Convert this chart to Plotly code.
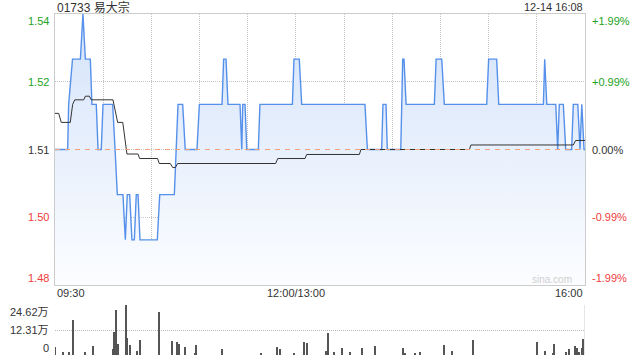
import plotly.graph_objects as go

# ---- data (x = minutes since 09:30, lunch break removed) ----
price_min = [0, 7.9, 8.5, 10.9, 15.8, 17.4, 18.9, 22.0, 23.0, 25.7, 26.8, 28.8, 29.9, 35.9,
             37.4, 38.8, 42.3, 43.8, 45.0, 46.5, 47.9, 49.4, 50.6, 51.7, 52.9, 63.7, 65.2,
             74.3, 76.6, 79.5, 81.1, 88.4, 89.9, 104.0, 105.0, 106.5, 107.7, 115.2, 116.3,
             116.9, 118.3, 119.4, 126.6, 127.6, 147.8, 148.8, 152.1, 153.6, 193.0, 194.5,
             203.4, 204.2, 206.1, 206.9, 215.3, 216.5, 217.3, 218.6, 236.2, 237.3, 240.8,
             242.4, 268.8, 270.0, 275.0, 276.3, 304.1, 304.9, 306.2, 311.8, 313.0, 314.0,
             316.5, 318.0, 321.7, 322.7, 325.5, 326.9, 328.0, 329.4, 330]
price_val = [1.51, 1.51, 1.52, 1.53, 1.53, 1.54, 1.53, 1.53, 1.52, 1.52, 1.51, 1.51, 1.52, 1.52,
             1.51, 1.50, 1.50, 1.49, 1.50, 1.50, 1.49, 1.49, 1.50, 1.50, 1.49, 1.49, 1.50,
             1.50, 1.52, 1.52, 1.51, 1.51, 1.52, 1.52, 1.53, 1.53, 1.52, 1.52, 1.51,
             1.52, 1.52, 1.51, 1.51, 1.52, 1.52, 1.53, 1.53, 1.52, 1.52, 1.51,
             1.51, 1.52, 1.52, 1.51, 1.51, 1.53, 1.53, 1.52, 1.52, 1.53, 1.53,
             1.52, 1.52, 1.53, 1.53, 1.52, 1.52, 1.53, 1.52, 1.52, 1.51, 1.52,
             1.52, 1.51, 1.51, 1.52, 1.52, 1.51, 1.52, 1.51, 1.51]

avg_min = [0, 2.3, 3.9, 9.5, 11.0, 12.3, 17.9, 18.9, 21.4, 22.6, 36.1, 37.5, 39.0, 42.2, 44.8,
           51.7, 52.7, 63.9, 64.9, 71.8, 73.3, 74.9, 76.4, 137.4, 138.7, 155.7, 156.7, 189.5,
           190.5, 258.0, 259.0, 322.7, 324.2, 330]
avg_val = [1.518, 1.518, 1.516, 1.516, 1.520, 1.521, 1.521, 1.5218, 1.5218, 1.521, 1.521,
           1.5187, 1.516, 1.516, 1.509, 1.509, 1.508, 1.508, 1.5069, 1.5069, 1.506, 1.506,
           1.5069, 1.5069, 1.508, 1.508, 1.5089, 1.5089, 1.510, 1.510, 1.511, 1.511, 1.512, 1.512]

vol_min = [0, 5, 9, 11, 19, 24, 36, 37, 38, 39, 44, 45, 47, 51, 53, 65, 73, 76, 77, 81, 87, 88,
           104, 128, 138, 140, 149, 155, 157, 169, 170, 174, 179, 184, 191, 199, 217, 218,
           224, 227, 242, 247, 260, 300, 305, 310, 311, 318, 320, 324, 325, 326, 328, 329]
vol_val = [3.9, 1.5, 1.5, 17.2, 1.5, 4.4, 3.0, 11.3, 22.0, 5.4, 24.6, 8.4, 4.9, 2.1, 7.4, 21.3,
           6.9, 6.4, 5.4, 3.9, 1.0, 4.9, 3.0, 1.2, 3.9, 3.0, 1.0, 6.4, 5.9, 2.1, 10.8, 1.5,
           3.4, 1.5, 3.4, 4.4, 3.4, 1.0, 1.0, 1.5, 4.9, 2.0, 7.4, 6.4, 2.0, 1.0, 5.4, 1.5,
           3.0, 4.4, 3.4, 1.5, 3.4, 7.9]

base_price = 1.51
price_ticks = [1.54, 1.525, 1.51, 1.495, 1.48]
price_labels = ["1.54", "1.52", "1.51", "1.50", "1.48"]
pct_labels = ["+1.99%", "+0.99%", "0.00%", "-0.99%", "-1.99%"]
label_colors = ["#22a322", "#22a322", "#333333", "#f03c3c", "#f03c3c"]
vol_ticks = [24.62, 12.31, 0]
vol_labels = ["24.62万", "12.31万", "0"]
time_ticks = list(range(0, 331, 30))
time_label_pos = [0, 150, 330]
time_labels = ["09:30", "12:00/13:00", "16:00"]
title_text = "01733 易大宗"
stamp_text = "12-14 16:08"

FONT = "Arial, 'Liberation Sans', 'Noto Sans CJK SC', sans-serif"
W, H = 640, 360
x0, x1 = 55, 585
main_top, main_bot = 14, 285
vol_top, vol_bot = 305, 355

fig = go.Figure()

fig.add_trace(go.Scatter(
    x=price_min, y=price_val, mode="lines", fill="tozeroy",
    line=dict(color="#5590ea", width=1.4),
    fillgradient=dict(type="vertical", start=1.48, stop=1.54,
                      colorscale=[[0, "#fcfdff"], [1, "#d4e3fa"]]),
    xaxis="x", yaxis="y", hoverinfo="skip", showlegend=False))

fig.add_trace(go.Scatter(
    x=avg_min, y=avg_val, mode="lines",
    line=dict(color="#333333", width=1),
    xaxis="x", yaxis="y", hoverinfo="skip", showlegend=False))

fig.add_trace(go.Bar(
    x=vol_min, y=vol_val, width=0.7,
    marker=dict(color="#555555", line=dict(width=0)),
    xaxis="x2", yaxis="y2", hoverinfo="skip", showlegend=False))

grid_col = "#c4c4c4"
fig.update_layout(
    width=W, height=H, margin=dict(l=0, r=0, t=0, b=0),
    paper_bgcolor="white", plot_bgcolor="rgba(0,0,0,0)",
    font=dict(family=FONT, size=11, color="#333"),
    xaxis=dict(domain=[x0 / W, x1 / W], range=[0, 330], tickvals=time_ticks,
               showticklabels=False, showgrid=True, gridcolor=grid_col, griddash="1px,1px",
               gridwidth=1, zeroline=False, showline=True, linecolor="#cccccc",
               linewidth=1, mirror=True, ticks=""),
    yaxis=dict(domain=[(H - main_bot) / H, (H - main_top) / H], range=[1.48, 1.54],
               tickvals=price_ticks, showticklabels=False, showgrid=True,
               gridcolor=grid_col, griddash="1px,1px", zeroline=False, showline=True,
               linecolor="#cccccc", linewidth=1, mirror=True, ticks=""),
    xaxis2=dict(domain=[x0 / W, x1 / W], range=[0, 330], showticklabels=False,
                showgrid=False, zeroline=False, showline=False, ticks="", anchor="y2"),
    yaxis2=dict(domain=[(H - vol_bot) / H, (H - vol_top) / H], range=[0, 24.62],
                tickvals=vol_ticks, showticklabels=False, showgrid=True,
                gridcolor="#b8b8b8", griddash="1px,1px", zeroline=False, showline=False,
                ticks="", anchor="x2"),
    bargap=0,
)

shapes = [
    dict(type="line", xref="x", yref="y", x0=0, x1=330, y0=base_price, y1=base_price,
         line=dict(color="#f0a07a", width=1, dash="5px,5px")),
    dict(type="line", xref="x2", yref="y2", x0=330, x1=330, y0=0, y1=24.62,
         line=dict(color="#cccccc", width=1)),
]
fig.update_layout(shapes=shapes)

ann = []
shift_main = [-7, 0, 0, 0, 7]
for v, lab, pct, col, sh in zip(price_ticks, price_labels, pct_labels, label_colors, shift_main):
    ann.append(dict(xref="paper", yref="y", x=(x0 - 4) / W, y=v, text=lab, showarrow=False,
                    xanchor="right", yanchor="middle", yshift=sh,
                    font=dict(color=col, size=11, family=FONT)))
    ann.append(dict(xref="paper", yref="y", x=(x1 + 5) / W, y=v, text=pct, showarrow=False,
                    xanchor="left", yanchor="middle", yshift=sh,
                    font=dict(color=col, size=11, family=FONT)))
shift_vol = [-7, 0, 7]
for v, lab, sh in zip(vol_ticks, vol_labels, shift_vol):
    ann.append(dict(xref="paper", yref="y2", x=(x0 - 4) / W, y=v, text=lab, showarrow=False,
                    xanchor="right", yanchor="middle", yshift=sh,
                    font=dict(color="#333", size=11, family=FONT)))
anchors = ["left", "center", "right"]
for p, lab, a in zip(time_label_pos, time_labels, anchors):
    ann.append(dict(xref="x", yref="paper", x=p, y=(H - 293) / H, text=lab, showarrow=False,
                    xanchor=a, yanchor="middle", font=dict(color="#333", size=11, family=FONT)))
ann.append(dict(xref="paper", yref="paper", x=x0 / W, y=(H - 7) / H, text=title_text,
                showarrow=False, xanchor="left", yanchor="middle",
                font=dict(color="#333", size=12, family=FONT)))
ann.append(dict(xref="paper", yref="paper", x=x1 / W, y=(H - 7) / H, text=stamp_text,
                showarrow=False, xanchor="right", yanchor="middle",
                font=dict(color="#333", size=11, family=FONT)))
ann.append(dict(xref="paper", yref="paper", x=552 / W, y=(H - 279) / H, text="sina.com",
                showarrow=False, xanchor="center", yanchor="middle",
                font=dict(color="#cfcfcf", size=10, family=FONT)))
fig.update_layout(annotations=ann)

fig.write_html("out.html")
